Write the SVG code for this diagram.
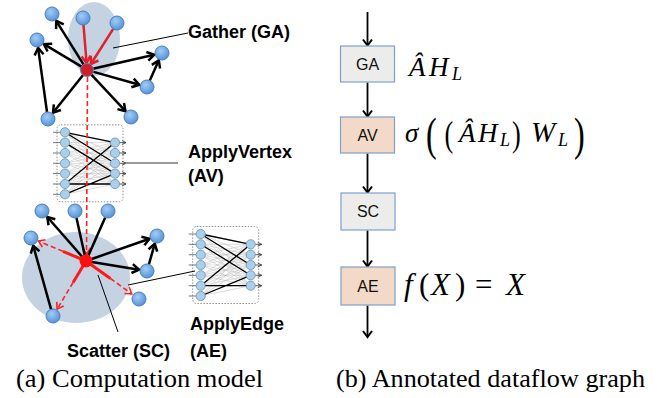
<svg xmlns="http://www.w3.org/2000/svg" width="668" height="398" viewBox="0 0 668 398">
<style>
.ell{fill:#c4d2e2}
.nd{fill:url(#bg);stroke:#4a7fc0;stroke-width:1}
.blk{stroke:#000;stroke-width:2.5;fill:none;marker-end:url(#ak)}
.bl{stroke:#000;stroke-width:2.5;fill:none}
.red{stroke:#e0202a;stroke-width:2.5;fill:none;marker-end:url(#ar)}
.rs{stroke:#ff1a1a;stroke-width:3;fill:none}
.rd{stroke:#ff2222;stroke-width:1.6;fill:none;stroke-dasharray:5,3;marker-end:url(#ard)}
.ptr{stroke:#000;stroke-width:1;fill:none}
.lbl{font-family:"Liberation Sans",Arial,sans-serif;font-weight:bold;font-size:18px;fill:#000}
.cap{font-family:"Liberation Serif","Times New Roman",serif;font-size:26px;fill:#000}
.bx{stroke:#7f9fcf;stroke-width:1.2}
.g1{fill:#ecedea}
.g2{fill:#f3dac8}
.bt{font-family:"Liberation Sans",Arial,sans-serif;font-size:16px;fill:#111;text-anchor:middle}
.flow{stroke:#000;stroke-width:1.8;fill:none;marker-end:url(#af)}
.m{font-family:"Liberation Serif","Times New Roman",serif;font-style:italic;fill:#000}
.mu{font-family:"Liberation Serif","Times New Roman",serif;fill:#000}
.nn{fill:#a9cfe9;stroke:#6b8fb3;stroke-width:0.8}
</style>
<defs>
<radialGradient id="bg" cx="0.4" cy="0.35" r="0.7">
<stop offset="0" stop-color="#a3cdf5"/>
<stop offset="1" stop-color="#4f8fd6"/>
</radialGradient>
<marker id="ak" markerUnits="userSpaceOnUse" viewBox="0 0 12 12" markerWidth="12" markerHeight="12" refX="10" refY="6" orient="auto">
<path d="M3,1.5 L10,6 L3,10.5" stroke="#000" stroke-width="2.5" fill="none"/>
</marker>
<marker id="ar" markerUnits="userSpaceOnUse" viewBox="0 0 12 12" markerWidth="12" markerHeight="12" refX="10" refY="6" orient="auto">
<path d="M3,1.5 L10,6 L3,10.5" stroke="#e0202a" stroke-width="2.5" fill="none"/>
</marker>
<marker id="ard" markerUnits="userSpaceOnUse" viewBox="0 0 12 12" markerWidth="12" markerHeight="12" refX="10" refY="6" orient="auto">
<path d="M4,2 L10,6 L4,10" stroke="#ff2222" stroke-width="1.6" fill="none"/>
</marker>
<marker id="af" markerUnits="userSpaceOnUse" viewBox="0 0 12 12" markerWidth="12" markerHeight="12" refX="10" refY="6" orient="auto">
<path d="M4,1.5 L10,6 L4,10.5" stroke="#000" stroke-width="2" fill="none"/>
</marker>
<marker id="as" markerUnits="userSpaceOnUse" viewBox="0 0 6 6" markerWidth="6" markerHeight="6" refX="5" refY="3" orient="auto">
<path d="M1,1 L5,3 L1,5" stroke="#333" stroke-width="0.8" fill="none"/>
</marker>
<g id="net">
<rect x="-8" y="-7.5" width="66" height="77" rx="4" fill="#fff" stroke="#777" stroke-width="0.8" stroke-dasharray="1.5,1.5"/>
<path stroke="#b8b8b8" stroke-width="0.5" fill="none" d="M0,0L50,10.3M0,0L50,20.7M0,0L50,31M0,0L50,41.3M0,0L50,51.7M0,10.3L50,10.3M0,10.3L50,20.7M0,10.3L50,31M0,10.3L50,41.3M0,10.3L50,51.7M0,20.7L50,10.3M0,20.7L50,20.7M0,20.7L50,31M0,20.7L50,41.3M0,20.7L50,51.7M0,31L50,10.3M0,31L50,20.7M0,31L50,31M0,31L50,41.3M0,31L50,51.7M0,41.3L50,10.3M0,41.3L50,20.7M0,41.3L50,31M0,41.3L50,41.3M0,41.3L50,51.7M0,51.7L50,10.3M0,51.7L50,20.7M0,51.7L50,31M0,51.7L50,41.3M0,51.7L50,51.7M0,62L50,10.3M0,62L50,20.7M0,62L50,31M0,62L50,41.3M0,62L50,51.7"/>
<path stroke="#000" stroke-width="1.3" fill="none" d="M0,0L50,10.3M0,0L50,31M0,10.3L50,41.3M0,51.7L50,10.3M0,51.7L50,51.7M0,62L50,41.3"/>
<path stroke="#555" stroke-width="0.8" fill="none" d="M-12,0H-4.5M-12,10.3H-4.5M-12,20.7H-4.5M-12,31H-4.5M-12,41.3H-4.5M-12,51.7H-4.5M-12,62H-4.5"/>
<g stroke="#333" stroke-width="0.8" marker-end="url(#as)">
<path d="M54.5,10.3H61"/><path d="M54.5,20.7H61"/><path d="M54.5,31H61"/><path d="M54.5,41.3H61"/><path d="M54.5,51.7H61"/>
</g>
<g class="nn">
<circle cx="0" cy="0" r="4.6"/><circle cx="0" cy="10.3" r="4.6"/><circle cx="0" cy="20.7" r="4.6"/><circle cx="0" cy="31" r="4.6"/><circle cx="0" cy="41.3" r="4.6"/><circle cx="0" cy="51.7" r="4.6"/><circle cx="0" cy="62" r="4.6"/>
<circle cx="50" cy="10.3" r="4.6"/><circle cx="50" cy="20.7" r="4.6"/><circle cx="50" cy="31" r="4.6"/><circle cx="50" cy="41.3" r="4.6"/><circle cx="50" cy="51.7" r="4.6"/>
</g>
</g>
</defs>
<rect width="668" height="398" fill="#fff"/>

<ellipse class="ell" cx="94" cy="39" rx="26" ry="37"/>
<ellipse class="ell" cx="76" cy="277.5" rx="54" ry="45.5"/>

<g id="apply-vertex"><use href="#net" x="65" y="132.3"/></g>
<g id="apply-edge-net"><use href="#net" x="200.7" y="234"/></g>

<g id="connectors">
<line class="blk" x1="83.8" y1="64.9" x2="56.2" y2="20.8"/>
<line class="blk" x1="81.9" y1="66.9" x2="43.9" y2="44.1"/>
<line class="blk" x1="92.9" y1="68.7" x2="154.2" y2="54.8"/>
<line class="blk" x1="92.8" y1="71.6" x2="139.3" y2="84.8"/>
<line class="blk" x1="83.3" y1="74.7" x2="53" y2="112.7"/>
<line class="blk" x1="91.1" y1="74.4" x2="125.5" y2="111.2"/>
<line class="blk" x1="47" y1="112" x2="38.1" y2="47.9"/>
<line class="blk" x1="149.8" y1="80.6" x2="158.8" y2="60.3"/>
<line class="red" x1="83.5" y1="25" x2="86.6" y2="63"/>
<line class="red" x1="113.2" y1="28.9" x2="90.9" y2="64"/>
<line class="rd" x1="87.5" y1="77" x2="86.5" y2="254"/>
<line class="blk" x1="82" y1="256.5" x2="47.3" y2="217"/>
<line class="bl" x1="76.5" y1="218" x2="84.7" y2="255"/>
<line class="bl" x1="105.2" y1="217.4" x2="88.4" y2="255.5"/>
<line class="blk" x1="91.7" y1="259" x2="149.5" y2="238.7"/>
<line class="blk" x1="91.9" y1="262" x2="139.1" y2="269.7"/>
<line class="blk" x1="51.1" y1="309.3" x2="33.2" y2="245.7"/>
<line class="blk" x1="148.9" y1="264.3" x2="154.8" y2="243.7"/>
<line class="rs" x1="86" y1="261" x2="62.9" y2="251.3"/>
<line class="rd" x1="62.9" y1="251.3" x2="38.4" y2="241.1"/>
<line class="rs" x1="86" y1="261" x2="73.1" y2="282.5"/>
<line class="rd" x1="73.1" y1="282.5" x2="57.1" y2="309.1"/>
<line class="rs" x1="86" y1="261" x2="110.4" y2="278.5"/>
<line class="rd" x1="110.4" y1="278.5" x2="131.7" y2="293.8"/>
<line class="ptr" x1="113" y1="48" x2="188" y2="33"/>
<line x1="125" y1="163" x2="178" y2="163" stroke="#777" stroke-width="1.5"/>
<line class="ptr" x1="128" y1="285" x2="195" y2="271"/>
<line class="ptr" x1="98" y1="275" x2="118" y2="332"/>
<line class="flow" x1="367.5" y1="12" x2="367.5" y2="45.5"/>
<line class="flow" x1="367.5" y1="82.5" x2="367.5" y2="116.5"/>
<line class="flow" x1="367.5" y1="153.5" x2="367.5" y2="192.5"/>
<line class="flow" x1="367.5" y1="230.5" x2="367.5" y2="266.5"/>
<line class="flow" x1="367.5" y1="305.5" x2="367.5" y2="337"/>
</g>

<g id="top-nodes">
<circle class="nd" cx="52" cy="14" r="7"/>
<circle class="nd" cx="83" cy="18" r="7"/>
<circle class="nd" cx="117" cy="23" r="7"/>
<circle class="nd" cx="37" cy="40" r="7"/>
<circle class="nd" cx="162" cy="53" r="7"/>
<circle class="nd" cx="147" cy="87" r="7"/>
<circle class="nd" cx="48" cy="119" r="7"/>
<circle class="nd" cx="131" cy="117" r="7"/>
</g>
<g id="gather-center"><circle cx="87" cy="70" r="6.5" fill="#cc1f2d" stroke="#5a7fb5" stroke-width="1"/></g>

<g id="bottom-nodes">
<circle class="nd" cx="42" cy="211" r="7"/>
<circle class="nd" cx="75" cy="211" r="7"/>
<circle class="nd" cx="108" cy="211" r="7"/>
<circle class="nd" cx="31" cy="238" r="7"/>
<circle class="nd" cx="157" cy="236" r="7"/>
<circle class="nd" cx="147" cy="271" r="7"/>
<circle class="nd" cx="139" cy="299" r="7"/>
<circle class="nd" cx="53" cy="316" r="7"/>
</g>
<g id="scatter-center"><circle cx="86" cy="261" r="6.5" fill="#ff0f0f"/></g>

<g id="labels-a">
<text class="lbl" x="188" y="38">Gather (GA)</text>
<text class="lbl" x="188" y="158">ApplyVertex</text>
<text class="lbl" x="188" y="182">(AV)</text>
<text class="lbl" x="190" y="330">ApplyEdge</text>
<text class="lbl" x="190" y="357">(AE)</text>
<text class="lbl" x="67" y="357">Scatter (SC)</text>
</g>

<g id="GA"><rect class="bx g1" x="340.5" y="46" width="54" height="36"/><text class="bt" x="367.5" y="69.5">GA</text></g>
<g id="AV"><rect class="bx g2" x="340.5" y="117" width="54" height="36"/><text class="bt" x="367.5" y="140.5">AV</text></g>
<g id="SC"><rect class="bx g1" x="341" y="193" width="54" height="37"/><text class="bt" x="368" y="217">SC</text></g>
<g id="AE"><rect class="bx g2" x="341" y="267" width="54" height="38"/><text class="bt" x="368" y="291.5">AE</text></g>

<g id="math">
<text class="m" style="font-size:27px" x="409" y="76">Â</text>
<text class="m" style="font-size:27px" x="429" y="76">H</text>
<text class="m" style="font-size:18px" x="452" y="80">L</text>

<text class="m" style="font-size:27px" x="405" y="141.5">σ</text>
<text class="mu" style="font-size:46px" transform="translate(426,149.5) scale(0.7,1)">(</text>
<text class="mu" style="font-size:35px" transform="translate(444.5,146) scale(0.75,1)">(</text>
<text class="m" style="font-size:27px" x="459" y="141.5">Â</text>
<text class="m" style="font-size:27px" x="478" y="141.5">H</text>
<text class="m" style="font-size:18px" x="500" y="146">L</text>
<text class="mu" style="font-size:35px" transform="translate(512,146) scale(0.75,1)">)</text>
<text class="m" style="font-size:29px" x="531" y="141.5">W</text>
<text class="m" style="font-size:18px" x="558" y="146">L</text>
<text class="mu" style="font-size:46px" transform="translate(574,149.5) scale(0.7,1)">)</text>

<text class="m" style="font-size:31px" x="404" y="295">f</text>
<text class="mu" style="font-size:31px" x="419" y="295">(</text>
<text class="m" style="font-size:31px" x="431" y="295">X</text>
<text class="mu" style="font-size:31px" x="455" y="295">)</text>
<text class="mu" style="font-size:31px" x="475" y="295">=</text>
<text class="m" style="font-size:31px" x="506" y="295">X</text>
</g>

<g id="captions">
<text class="cap" x="16" y="387" textLength="247" lengthAdjust="spacingAndGlyphs">(a) Computation model</text>
<text class="cap" x="336" y="387" textLength="309" lengthAdjust="spacingAndGlyphs">(b) Annotated dataflow graph</text>
</g>
</svg>
